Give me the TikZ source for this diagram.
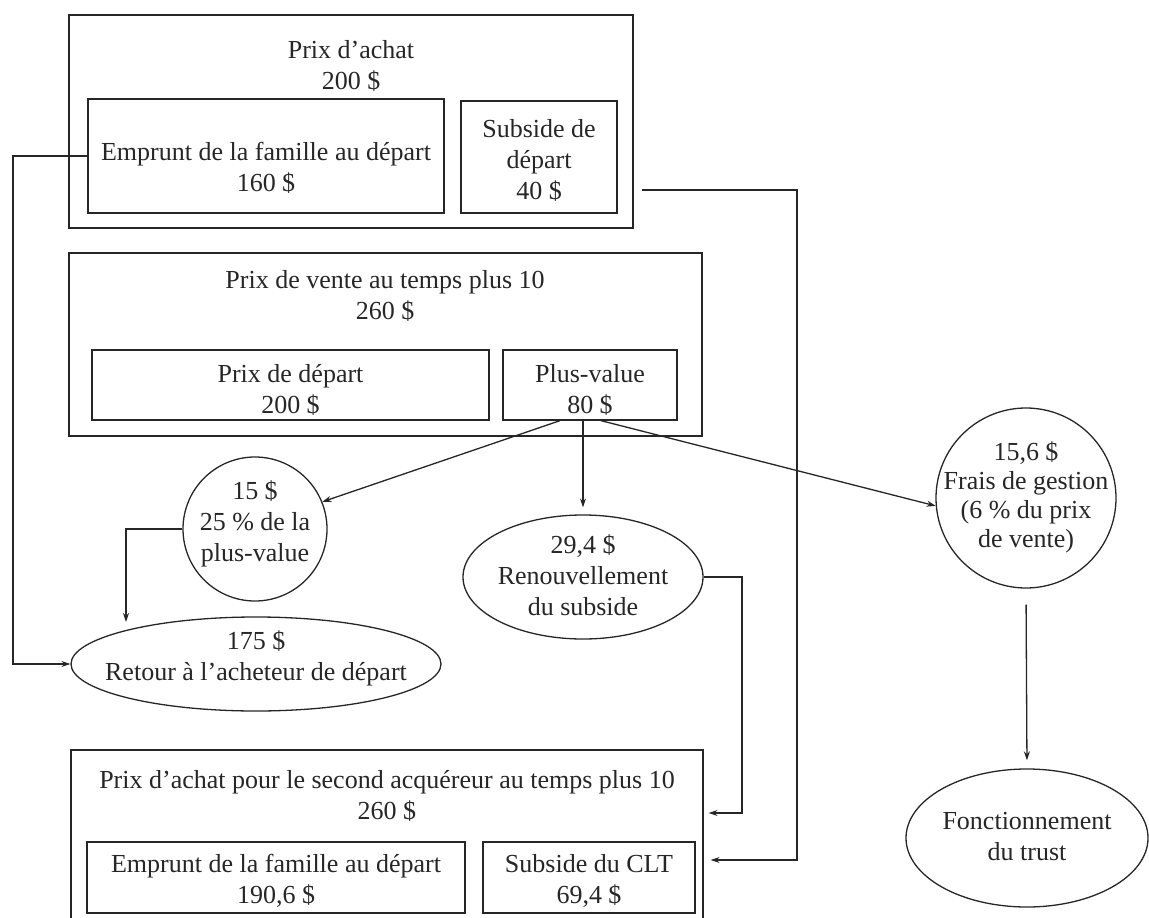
\documentclass[tikz,border=0pt]{standalone}
\usepackage{fontspec}
\setmainfont{Liberation Serif}
\usetikzlibrary{arrows.meta,shapes.geometric,calc}
\begin{document}
\begin{tikzpicture}[x=1pt,y=-1pt,
  box/.style={draw=black!85,line width=1.3pt,rectangle,inner sep=0pt},
  txt/.style={align=center,inner sep=0pt,font=\fontsize{26}{31}\selectfont,text=black!85},
  circ/.style={draw=black!85,line width=1.3pt,circle,inner sep=0pt},
  ell/.style={draw=black!85,line width=1.3pt,ellipse,inner sep=0pt},
  conn/.style={draw=black!85,line width=1.3pt},
  arr/.style={conn,-{Stealth[length=9pt,width=6pt]}}]
\useasboundingbox (0,0) rectangle (1149,918);

% top block
\node[box,minimum width=564,minimum height=213] (top) at (351,121.5) {};
\node[txt] (toptxt) at (351,66) {Prix d'achat\\200 \$};
\node[box,minimum width=356,minimum height=114] (tl) at (266,156) {};
\node[txt] (tltxt) at (266,168) {Emprunt de la famille au départ\\160 \$};
\node[box,minimum width=156,minimum height=112] (tr) at (539,157) {};
\node[txt] (trtxt) at (539,160) {Subside de\\départ\\40 \$};

% middle block
\node[box,minimum width=633,minimum height=183] (mid) at (385.5,344.5) {};
\node[txt] (midtxt) at (385,296) {Prix de vente au temps plus 10\\260 \$};
\node[box,minimum width=397,minimum height=70] (ml) at (290.5,385) {};
\node[txt] (mltxt) at (290.5,390) {Prix de départ\\200 \$};
\node[box,minimum width=174,minimum height=70] (pv) at (590,385) {};
\node[txt] (pvtxt) at (590,390) {Plus-value\\80 \$};

% circles and ellipses
\node[circ,minimum size=144] (c15) at (255,529) {};
\node[txt] (c15txt) at (255,524) {15 \$\\25 \% de la\\plus-value};
\node[ell,minimum width=240,minimum height=124] (ren) at (583,577) {};
\node[txt] (rentxt) at (583,575) {29,4 \$\\Renouvellement\\du subside};
\node[circ,minimum size=180] (cfg) at (1026,498) {};
\node[txt,font=\fontsize{26}{29}\selectfont] (cfgtxt) at (1026,497) {15,6 \$\\Frais de gestion\\(6 \% du prix\\de vente)};
\node[ell,minimum width=370,minimum height=94] (ret) at (256,664) {};
\node[txt] (rettxt) at (256,658) {175 \$\\Retour à l'acheteur de départ};
\node[ell,minimum width=242,minimum height=138] (fon) at (1027,838) {};
\node[txt] (fontxt) at (1027,837) {Fonctionnement\\du trust};

% bottom block
\node[box,minimum width=632,minimum height=200] (bot) at (387,850) {};
\node[txt] (bottxt) at (387,796) {Prix d'achat pour le second acquéreur au temps plus 10\\260 \$};
\node[box,minimum width=378,minimum height=71] (bl) at (276,877.5) {};
\node[txt] (bltxt) at (276,881) {Emprunt de la famille au départ\\190,6 \$};
\node[box,minimum width=212,minimum height=71] (br) at (589,877.5) {};
\node[txt] (brtxt) at (589,881) {Subside du CLT\\69,4 \$};

% helper coordinates
\coordinate (lx) at (13,0);
\coordinate (rs) at (642,190);
\coordinate (rv) at (797,0);
\coordinate (yr) at (0,860);
\coordinate (rv2) at (742,0);
\coordinate (yi) at (0,813);
\coordinate (hk) at ($(ret.center)+(-130,-42)$);

% connectors
\draw[arr] (tl.west) -- (tl.west -| lx) |- (ret.west);
\draw[arr,shorten >=7pt] (rs) -- (rs -| rv) -- (rv |- yr) -- (bot.east |- yr);
\draw[arr,shorten >=5pt] (ren.east) -- (ren.east -| rv2) -- (rv2 |- yi) -- (bot.east |- yi);
\draw[arr] ([xshift=-30pt]pv.south) -- (c15.22);
\draw[arr,shorten >=7pt] (ren.north |- pv.south) -- (ren.north);
\draw[arr] ([xshift=11pt]pv.south) -- (cfg.185);
\draw[arr] (c15.west) -| (hk);
\draw[arr,shorten <=16pt,shorten >=8pt] (cfg.south) -- (fon.north);
\end{tikzpicture}
\end{document}
